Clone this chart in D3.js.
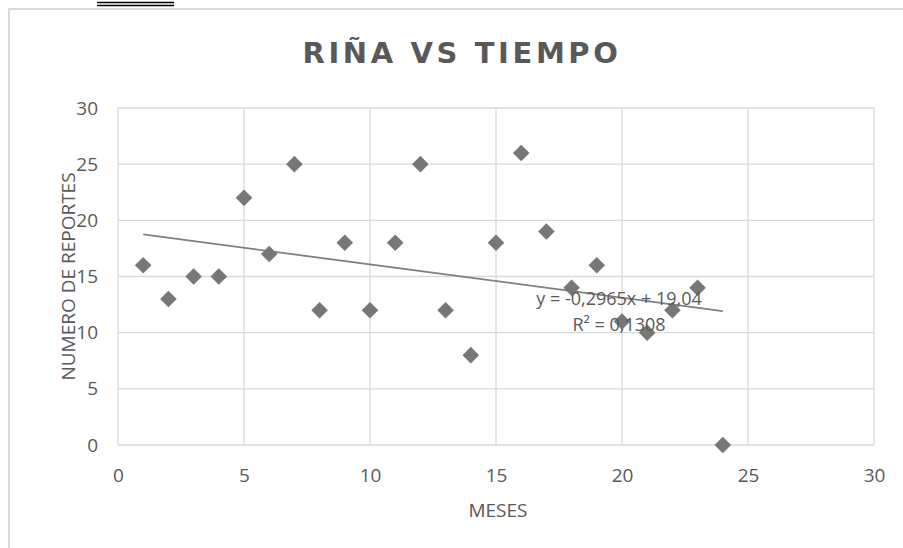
<!DOCTYPE html>
<html>
<head>
<meta charset="utf-8">
<script src="https://cdn.jsdelivr.net/npm/d3@7"></script>
<style>
  body { margin: 0; background: #fff; }
  svg { display: block; }
</style>
</head>
<body>
<div id="chart"></div>
<script>
// data
var meses = [1,2,3,4,5,6,7,8,9,10,11,12,13,14,15,16,17,18,19,20,21,22,23,24];
var reportes = [16,13,15,15,22,17,25,12,18,12,18,25,12,8,18,26,19,14,16,11,10,12,14,0];
var xTicks = [0,5,10,15,20,25,30];
var yTicks = [0,5,10,15,20,25,30];
var title = "RIÑA VS TIEMPO";
var xLabel = "MESES";
var yLabel = "NUMERO DE REPORTES";
var eqLabel = "y = -0,2965x + 19,04";
var r2Label = "R² = 0,1308";

var width = 903, height = 548;
var font = "'Open Sans', sans-serif";
var gray = "#595959";

var svg = d3.select("#chart").append("svg")
  .attr("width", width).attr("height", height);

// caption line above the chart, cut by the top of the page
svg.append("text")
  .attr("x", 0).attr("y", -1)
  .style("font-family", "'Liberation Serif', serif").style("font-size", "16px")
  .attr("fill", "#000")
  .text("Gráfica 1. Fuente: Anexo");
svg.append("line").attr("x1", 97).attr("x2", 174).attr("y1", 2.5).attr("y2", 2.5)
  .attr("stroke", "#000").attr("stroke-width", 1.3);
svg.append("line").attr("x1", 97).attr("x2", 174).attr("y1", 5.5).attr("y2", 5.5)
  .attr("stroke", "#000").attr("stroke-width", 1.3);

// chart border (runs off the page on the right and bottom)
svg.append("rect")
  .attr("x", 9).attr("y", 9).attr("width", 920).attr("height", 560)
  .attr("fill", "none").attr("stroke", "#d9d9d9").attr("stroke-width", 2);

var x = d3.scaleLinear().domain([0, 30]).range([118, 874]);
var y = d3.scaleLinear().domain([0, 30]).range([445, 108]);

// gridlines
svg.append("g").selectAll("line").data(yTicks).join("line")
  .attr("x1", x(0)).attr("x2", x(30))
  .attr("y1", d => y(d)).attr("y2", d => y(d))
  .attr("stroke", "#d9d9d9").attr("stroke-width", 1.3);
svg.append("g").selectAll("line").data(xTicks).join("line")
  .attr("y1", y(0)).attr("y2", y(30))
  .attr("x1", d => x(d)).attr("x2", d => x(d))
  .attr("stroke", "#d9d9d9").attr("stroke-width", 1.3);

// axes via d3, styled like Excel (no domain or tick marks)
var xAxis = svg.append("g").attr("transform", "translate(0," + y(0) + ")")
  .call(d3.axisBottom(x).tickValues(xTicks).tickSize(0).tickPadding(24));
var yAxis = svg.append("g").attr("transform", "translate(" + x(0) + ",0)")
  .call(d3.axisLeft(y).tickValues(yTicks).tickSize(0).tickPadding(20));
[xAxis, yAxis].forEach(function(a) {
  a.select(".domain").remove();
  a.selectAll("text").attr("fill", gray)
    .style("font-family", font).style("font-size", "19px");
});

// regression line computed from the data
var mx = d3.mean(meses), my = d3.mean(reportes);
var sxy = d3.sum(meses, (d, i) => (d - mx) * (reportes[i] - my));
var sxx = d3.sum(meses, d => (d - mx) * (d - mx));
var slope = sxy / sxx, intercept = my - slope * mx;
var xr = d3.extent(meses);
svg.append("line")
  .attr("x1", x(xr[0])).attr("y1", y(intercept + slope * xr[0]))
  .attr("x2", x(xr[1])).attr("y2", y(intercept + slope * xr[1]))
  .attr("stroke", "#7f7f7f").attr("stroke-width", 1.8);

// diamond markers
svg.append("g").selectAll("path").data(meses).join("path")
  .attr("d", d3.symbol().type(d3.symbolSquare).size(138))
  .attr("transform", (d, i) => "translate(" + x(d) + "," + y(reportes[i]) + ") rotate(45)")
  .attr("fill", "#777777");

// trendline label
svg.append("text").attr("x", 619).attr("y", 305).attr("text-anchor", "middle")
  .attr("fill", gray).style("font-family", font).style("font-size", "18px")
  .text(eqLabel);
svg.append("text").attr("x", 619).attr("y", 331).attr("text-anchor", "middle")
  .attr("fill", gray).style("font-family", font).style("font-size", "18px")
  .text(r2Label);

// title
svg.append("text").attr("x", 462).attr("y", 63).attr("text-anchor", "middle")
  .attr("fill", gray).style("font-family", "'DejaVu Sans', sans-serif")
  .style("font-size", "29px").style("font-weight", "bold")
  .style("letter-spacing", "3.6px")
  .text(title);

// axis titles
svg.append("text").attr("x", 498).attr("y", 517).attr("text-anchor", "middle")
  .attr("fill", gray).style("font-family", font).style("font-size", "19px")
  .text(xLabel);
svg.append("text")
  .attr("transform", "translate(75," + y(15) + ") rotate(-90)")
  .attr("text-anchor", "middle")
  .attr("fill", gray).style("font-family", font).style("font-size", "19px")
  .text(yLabel);
</script>
</body>
</html>
